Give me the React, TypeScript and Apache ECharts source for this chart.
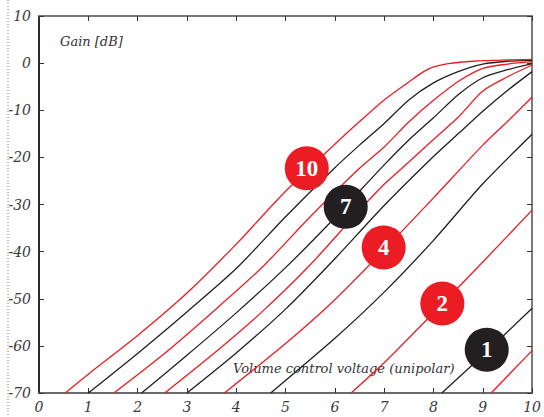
import React, { useEffect, useRef } from "react";
import * as echarts from "echarts";

// Gain [dB] vs volume control voltage, one curve per setting 0..10
const curve10: [number, number][] = [[0.53, -70], [1, -66], [2, -57.8], [3, -48.8], [4, -38.4], [5, -27.2], [6, -17.2], [6.5, -12.4], [7, -7.8], [7.5, -4.0], [7.8, -1.8], [8.0, -0.8], [8.3, -0.1], [8.8, 0.4], [9.5, 0.7], [10, 0.8]];
const curve9: [number, number][] = [[1.0, -70], [2, -61.6], [3, -52.8], [4, -43.6], [5, -32.6], [6, -22.2], [6.5, -17.4], [7, -12.8], [7.5, -7.8], [8, -4.2], [8.5, -1.8], [9, -0.2], [9.5, 0.4], [10, 0.6]];
const curve8: [number, number][] = [[1.52, -70], [2.5, -62], [3.5, -53], [4.5, -43.6], [5.5, -32.6], [6.5, -22.3], [7, -17.8], [7.5, -12.5], [8, -7.9], [8.5, -3.9], [9, -1.1], [9.5, -0.2], [10, 0.3]];
const curve7: [number, number][] = [[2.08, -70], [3, -62], [4, -53], [5, -43.4], [6, -32.8], [7, -21.6], [7.5, -16.3], [8, -11.6], [8.5, -6.7], [9, -3.1], [9.5, -1.4], [10, -0.1]];
const curve6: [number, number][] = [[2.55, -70], [3.5, -62], [4.5, -53], [5.5, -42.8], [6.5, -31.2], [7, -25.7], [7.5, -21.0], [8, -16.2], [8.5, -11.5], [9, -5.9], [9.5, -2.9], [10, -0.4]];
const curve5: [number, number][] = [[3.0, -70], [4, -61.5], [5, -52.2], [6, -41.5], [7, -30.2], [8, -19.8], [8.5, -15.0], [9, -10.2], [9.5, -5.8], [10, -1.8]];
const curve4: [number, number][] = [[3.76, -70], [5, -59.5], [6, -50.2], [7, -39.6], [8, -28.6], [9, -17.4], [9.5, -12.4], [10, -7.2]];
const curve3: [number, number][] = [[4.7, -70], [6, -58.4], [7, -48.6], [8, -37.6], [9, -25.6], [10, -15.1]];
const curve2: [number, number][] = [[6.33, -70], [7, -63.6], [8, -53.0], [9, -42.2], [10, -31.2]];
const curve1: [number, number][] = [[8.17, -70], [9, -62.0], [10, -52]];
const curve0: [number, number][] = [[9.17, -70], [10, -61]];

const curves = [curve0, curve1, curve2, curve3, curve4, curve5, curve6, curve7, curve8, curve9, curve10];

// numbered badges: curve index and position in data units
const badgeCurves = [10, 7, 4, 2, 1];
const badgePositions: [number, number][] = [[5.43, -22.3], [6.22, -30.5], [6.99, -39.1], [8.18, -51.0], [9.08, -60.8]];

const xTicks = [0, 1, 2, 3, 4, 5, 6, 7, 8, 9, 10];
const yTicks = [-70, -60, -50, -40, -30, -20, -10, 0, 10];

const RED = "#ec1c24";
const BLACK = "#231f20";
const FONT = "DejaVu Serif";
const BADGE_FONT = "Liberation Serif";

export default function App() {
  const ref = useRef<HTMLDivElement>(null);
  useEffect(() => {
    if (!ref.current) return;
    const chart = echarts.init(ref.current, undefined, { renderer: "svg" });
    const series: any[] = curves.map((data, n) => {
      const color = n % 2 === 0 ? RED : BLACK;
      const bi = badgeCurves.indexOf(n);
      const s: any = {
        type: "line",
        name: String(n),
        data,
        showSymbol: false,
        smooth: 0.25,
        lineStyle: { color, width: 1.3 },
        xAxisIndex: 0,
        yAxisIndex: 0,
        z: 2,
      };
      if (bi >= 0) {
        s.markPoint = {
          z: 10,
          symbol: "circle",
          symbolSize: 44,
          itemStyle: { color },
          label: {
            show: true,
            position: "inside",
            formatter: String(n),
            color: "#ffffff",
            fontFamily: BADGE_FONT,
            fontWeight: "bold",
            fontSize: 23,
          },
          data: [{ coord: badgePositions[bi] }],
        };
      }
      return s;
    });
    const axisLabelStyle = { fontFamily: FONT, fontStyle: "italic", fontSize: 14, color: "#3a3a3a" };
    const tick = { inside: true, length: 5, lineStyle: { color: "#333", width: 1 } };
    chart.setOption({
      animation: false,
      grid: { left: 39, right: 6, top: 16, bottom: 24, containLabel: false },
      xAxis: [
        {
          type: "value",
          min: 0,
          max: 10,
          interval: 1,
          position: "bottom",
          splitLine: { show: false },
          axisLine: { onZero: false, lineStyle: { color: "#6b6b6b", width: 2 } },
          axisTick: tick,
          axisLabel: { ...axisLabelStyle, margin: 7, formatter: (v: number) => (xTicks.includes(v) ? String(v) : "") },
        },
        {
          type: "value",
          min: 0,
          max: 10,
          interval: 1,
          position: "top",
          splitLine: { show: false },
          axisLine: { onZero: false, lineStyle: { color: "#7a7a7a", width: 2 } },
          axisTick: tick,
          axisLabel: { show: false },
        },
      ],
      yAxis: [
        {
          type: "value",
          min: -70,
          max: 10,
          interval: 10,
          position: "left",
          splitLine: { show: false },
          axisLine: { onZero: false, lineStyle: { color: "#2a2a2a", width: 2 } },
          axisTick: tick,
          axisLabel: { ...axisLabelStyle, margin: 8, formatter: (v: number) => (yTicks.includes(v) ? String(v) : "") },
        },
        {
          type: "value",
          min: -70,
          max: 10,
          interval: 10,
          position: "right",
          splitLine: { show: false },
          axisLine: { onZero: false, lineStyle: { color: "#7a7a7a", width: 2 } },
          axisTick: tick,
          axisLabel: { show: false },
        },
      ],
      graphic: [
        {
          type: "line",
          shape: { x1: 8, y1: 0, x2: 8, y2: 417 },
          style: { stroke: "#777", lineWidth: 1, lineDash: [1, 2] },
        },
        {
          type: "text",
          left: 60,
          top: 35,
          style: { text: "Gain [dB]", fontFamily: FONT, fontStyle: "italic", fontSize: 13, fill: "#333" },
        },
        {
          type: "text",
          left: 233,
          top: 362,
          style: { text: "Volume control voltage (unipolar)", fontFamily: FONT, fontStyle: "italic", fontSize: 13, fill: "#333" },
        },
      ],
      series,
    });
    return () => chart.dispose();
  }, []);
  return <div ref={ref} style={{ width: 544, height: 417, position: "absolute", left: 0, top: 0 }} />;
}
